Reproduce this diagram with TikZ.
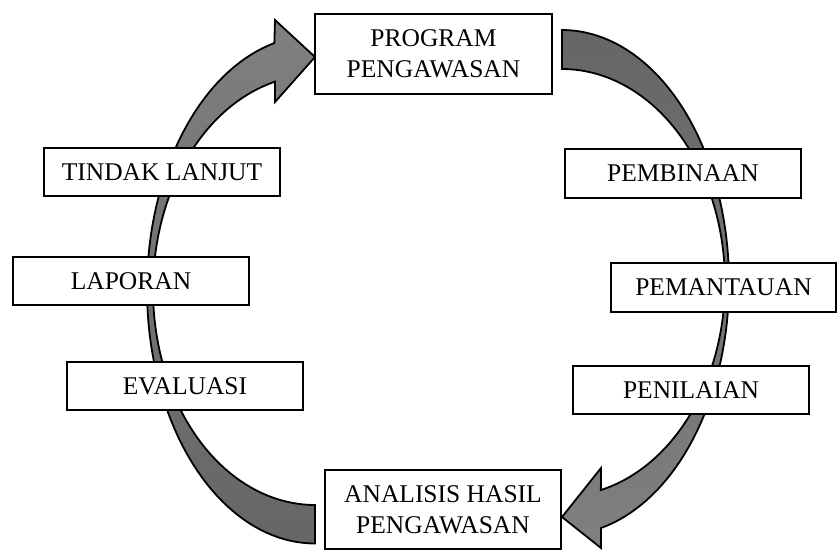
\documentclass[tikz,border=0pt]{standalone}
\usepackage{fontspec}
\setmainfont{Liberation Serif}
\begin{document}
\begin{tikzpicture}[x=1pt,y=-1pt,
  stagebox/.style={draw=black, line width=1.8pt, fill=white, rectangle, inner sep=0pt,
    align=center, font=\fontsize{25.5}{31}\selectfont},
  arrowbody/.style={draw=black, line width=1.8pt, line join=miter}]
\useasboundingbox (0,0) rectangle (837,550);

% right curved arrow (PROGRAM -> ANALISIS)
\path[arrowbody, top color=black!60, bottom color=black!50]
  (562,30) -- plot[domain=-90:76.5, samples=80, variable=\t] ({562+167*cos(\t)},{282.5+252.5*sin(\t)})
  -- (601,548) -- (562,517) -- (601,468)
  -- plot[domain=76.2:-90, samples=80, variable=\t] ({562+163*cos(\t)},{282.6+213.6*sin(\t)})
  -- cycle;

% left curved arrow (ANALISIS -> PROGRAM)
\path[arrowbody, top color=black!50, bottom color=black!60]
  (315,543.5) -- plot[domain=90:256, samples=80, variable=\t] ({315+168*cos(\t)},{289.5+254*sin(\t)})
  -- (275,20) -- (315,57) -- (275,102)
  -- plot[domain=255.7:90, samples=80, variable=\t] ({315+162*cos(\t)},{290+215*sin(\t)})
  -- cycle;

\node[stagebox, minimum width=237pt, minimum height=80pt] (prog) at (433.5,54) {PROGRAM\\PENGAWASAN};
\node[stagebox, minimum width=236pt, minimum height=48pt] (tindak) at (162,172) {TINDAK LANJUT};
\node[stagebox, minimum width=236pt, minimum height=48pt] (laporan) at (131,281) {LAPORAN};
\node[stagebox, minimum width=236pt, minimum height=48pt] (evaluasi) at (185,386) {EVALUASI};
\node[stagebox, minimum width=236pt, minimum height=79pt] (analisis) at (443,509.5) {ANALISIS HASIL\\PENGAWASAN};
\node[stagebox, minimum width=236pt, minimum height=49pt] (pembinaan) at (683,173.5) {PEMBINAAN};
\node[stagebox, minimum width=225pt, minimum height=49pt] (pemantauan) at (723.5,287.5) {PEMANTAUAN};
\node[stagebox, minimum width=236pt, minimum height=48pt] (penilaian) at (691,390) {PENILAIAN};
\end{tikzpicture}
\end{document}
